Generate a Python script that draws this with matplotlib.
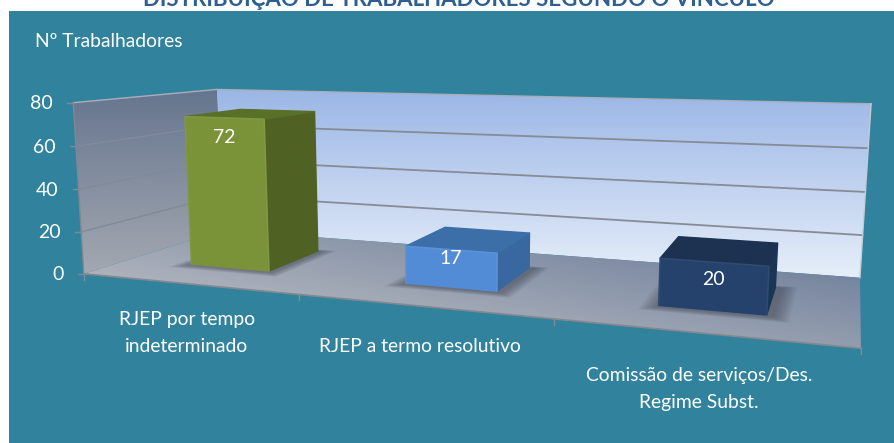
import numpy as np
import matplotlib
matplotlib.use('Agg')
import matplotlib.pyplot as plt
from matplotlib.colors import to_rgb
from matplotlib.patches import Polygon, Rectangle

plt.rcParams['font.family'] = ['Lato', 'DejaVu Sans']

categories = ['RJEP por tempo\nindeterminado', 'RJEP a termo resolutivo',
              'Comissão de serviços/Des.\nRegime Subst.']
values = [72, 17, 20]
y_ticks = [0, 20, 40, 60, 80]
title = 'DISTRIBUIÇÃO DE TRABALHADORES SEGUNDO O VÍNCULO'
y_title = 'Nº Trabalhadores'

# bar colours: front, side, top
bar_colors = [('#7a9339', '#4f6223', '#587028'),
              ('#538cd6', '#38689f', '#3c6fa8'),
              ('#24426b', '#1b3554', '#1c3250')]

BAR_HALF = 0.19
BAR_D0, BAR_D1 = 0.30, 0.72
label_dy = [20, 9, 17]

# box corners (u, value, depth) -> pixel, used to fit the projection
calib = [((0, 0, 0), (84, 273)), ((0, 80, 0), (73, 103)),
         ((0, 0, 1), (222, 231)), ((0, 80, 1), (217, 89)),
         ((3, 0, 1), (860, 277)), ((3, 80, 1), (871, 104)),
         ((3, 0, 0), (861, 349))]


def fit_projection(calib):
    # plain DLT, the 3d chart is really a perspective view
    rows, rhs = [], []
    for (u, v, d), (px, py) in calib:
        rows.append([u, v, d, 1, 0, 0, 0, 0, -px * u, -px * v, -px * d])
        rhs.append(px)
        rows.append([0, 0, 0, 0, u, v, d, 1, -py * u, -py * v, -py * d])
        rhs.append(py)
    # scale the columns, value runs to 80 while the rest stay small
    A = np.array(rows, dtype=float)
    scale = np.abs(A).max(axis=0)
    m = np.linalg.lstsq(A / scale, np.array(rhs, dtype=float), rcond=None)[0] / scale
    return np.append(m, 1.0).reshape(3, 4)


P = fit_projection(calib)


def proj(u, v, d):
    p = P @ np.array([u, v, d, 1.0])
    return p[0] / p[2], p[1] / p[2]


def gradient(ax, poly, c0, c1, angle=90, zorder=1):
    # c0 to c1 along the direction angle, clipped to poly
    poly = np.array(poly)
    x0, y0 = poly.min(axis=0)
    x1, y1 = poly.max(axis=0)
    xx, yy = np.meshgrid(np.linspace(x0, x1, 120), np.linspace(y0, y1, 120))
    a = np.deg2rad(angle)
    t = xx * np.cos(a) + yy * np.sin(a)
    proj_c = poly[:, 0] * np.cos(a) + poly[:, 1] * np.sin(a)
    t = np.clip((t - proj_c.min()) / (proj_c.max() - proj_c.min()), 0, 1)[..., None]
    img = np.array(to_rgb(c0)) * (1 - t) + np.array(to_rgb(c1)) * t
    im = ax.imshow(img, extent=(x0, x1, y1, y0), aspect='auto', zorder=zorder,
                   interpolation='bilinear')
    im.set_clip_path(Polygon(poly, transform=ax.transData))


fig = plt.figure(figsize=(8.95, 4.43), dpi=100, facecolor='white')
ax = fig.add_axes([0, 0, 1, 1])

# walls and floor
ymax = y_ticks[-1]
back = [proj(0, 0, 1), proj(0, ymax, 1), proj(3, ymax, 1), proj(3, 0, 1)]
left = [proj(0, 0, 0), proj(0, ymax, 0), proj(0, ymax, 1), proj(0, 0, 1)]
floor = [proj(0, 0, 0), proj(0, 0, 1), proj(3, 0, 1), proj(3, 0, 0)]

ax.add_patch(Rectangle((9, 11), 886, 432, fc='#31839d', ec='none', zorder=0))
gradient(ax, back, '#9bb6e6', '#e6eef9', 90)
gradient(ax, left, '#66758f', '#a3a8b0', 90)
gradient(ax, floor, '#76859f', '#adb2bc', 100)

# gridlines
for t in y_ticks[1:-1]:
    pts = [proj(0, t, 0), proj(0, t, 1)]
    ax.plot(*zip(*pts), color='#808a99', lw=1, zorder=2)
    pts = [proj(0, t, 1), proj(3, t, 1)]
    ax.plot(*zip(*pts), color='#868b96', lw=1.3, zorder=2)

# box edges
ax.plot(*zip(proj(0, ymax, 0), proj(0, ymax, 1), proj(3, ymax, 1)), color='#a9afba', lw=1, zorder=2)
ax.plot(*zip(proj(3, ymax, 1), proj(3, 0, 1)), color='#c4cbd6', lw=1, zorder=2)
ax.plot(*zip(proj(0, 0, 0), proj(0, ymax, 0)), color='#7d8796', lw=1, zorder=2)
ax.plot(*zip(proj(0, 0, 0), proj(3, 0, 0)), color='#85898f', lw=1.2, zorder=2)

# y ticks and labels
for t in y_ticks:
    x, y = proj(0, t, 0)
    ax.plot([x - 6, x], [y, y], color='#808a99', lw=1, zorder=2)
    ax.text(x - 20, y + 1, str(t), color='white', fontsize=14, ha='right', va='center', zorder=5)

# x ticks and labels
for i in range(4):
    x, y = proj(i, 0, 0)
    ax.plot([x, x], [y, y + 6], color='#808a99', lw=1, zorder=2)

label_pos = [(187, 333), (420, 346), (699, 389)]
for name, (x, y) in zip(categories, label_pos):
    ax.text(x, y, name, color='white', fontsize=13.9, ha='center', va='center',
            linespacing=1.7, zorder=5)

# bars
for i, (val, cols) in enumerate(zip(values, bar_colors)):
    c = i + 0.5
    u0, u1 = c - BAR_HALF, c + BAR_HALF
    d0, d1 = BAR_D0, BAR_D1

    # soft shadow on the floor
    for step in range(10):
        grow = 0.006 * (10 - step)
        shadow = [proj(u0 - grow, 0, d0 - 0.02 - grow), proj(u1 + grow + 0.02, 0, d0 - 0.02 - grow),
                  proj(u1 + grow + 0.02, 0, d1 + grow * 0.5), proj(u0 - grow, 0, d1 + grow * 0.5)]
        ax.add_patch(Polygon(shadow, fc='#3a3f4a', ec='none', alpha=0.06, zorder=3))

    side = [proj(u1, 0, d0), proj(u1, val, d0), proj(u1, val, d1), proj(u1, 0, d1)]
    top = [proj(u0, val, d0), proj(u1, val, d0), proj(u1, val, d1), proj(u0, val, d1)]
    front = [proj(u0, 0, d0), proj(u0, val, d0), proj(u1, val, d0), proj(u1, 0, d0)]
    ax.add_patch(Polygon(side, fc=cols[1], ec=cols[1], lw=1, joinstyle='round', zorder=4))
    ax.add_patch(Polygon(top, fc=cols[2], ec=cols[2], lw=1, joinstyle='round', zorder=4))
    ax.add_patch(Polygon(front, fc=cols[0], ec=cols[0], lw=1, joinstyle='round', zorder=4))
    # thin bevel along the front edges
    ax.plot(*zip(front[0], front[1], front[2], front[3]), color='white', alpha=0.05, lw=1.2,
            solid_joinstyle='round', zorder=4.5)

    # value label sits just under the top of the front face
    x, y = proj(c, val, d0)
    ax.text(x, y + label_dy[i], str(val), color='white', fontsize=14, ha='center', va='center', zorder=6)

ax.text(35, 41, y_title, color='white', fontsize=13.9, ha='left', va='center', zorder=5)
ax.text(459, 6, title, color='#2f5f92', fontsize=16, fontweight='bold', ha='center',
        va='baseline', zorder=5)

ax.set_xlim(0, 895)
ax.set_ylim(443, 0)
ax.axis('off')
fig.savefig('out.png', dpi=100, facecolor='white')
